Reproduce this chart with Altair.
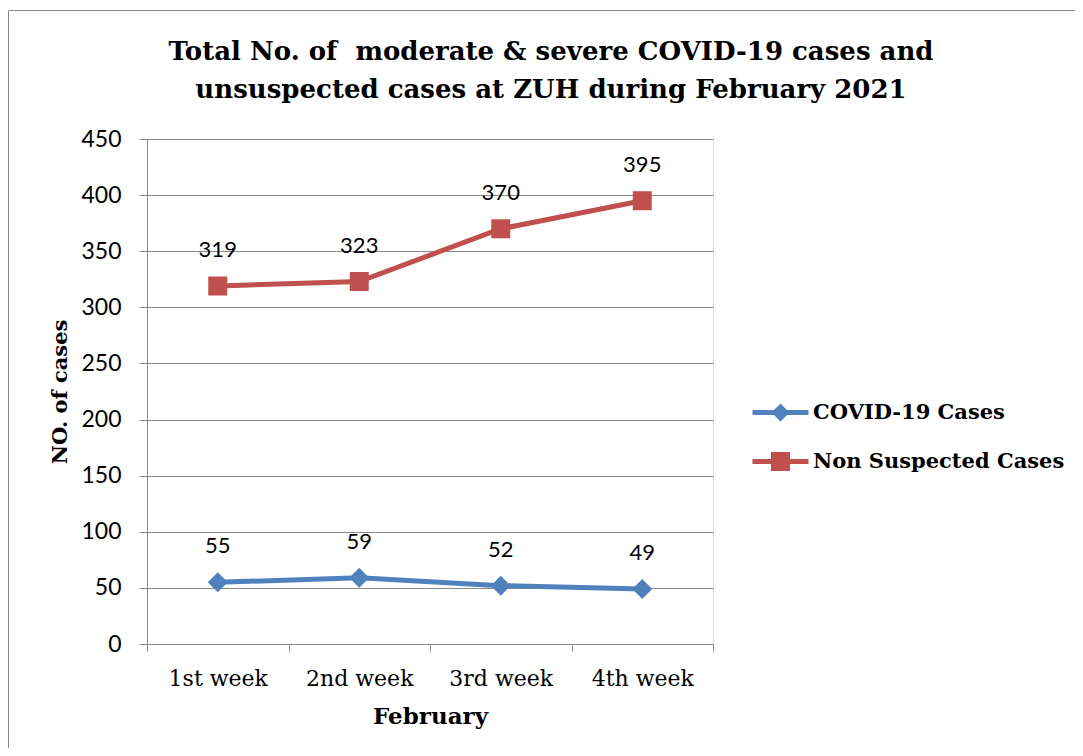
import altair as alt
import pandas as pd

weeks = ["1st week", "2nd week", "3rd week", "4th week"]
covid_cases = [55, 59, 52, 49]
non_suspected = [319, 323, 370, 395]
series_names = ["COVID-19 Cases", "Non Suspected Cases"]
series_colors = ["#4F81BD", "#C0504D"]
series_shapes = ["diamond", "square"]
series_sizes = [400, 361]
y_ticks = [0, 50, 100, 150, 200, 250, 300, 350, 400, 450]
title_lines = ["Total No. of \u00a0moderate & severe COVID-19 cases and",
               "unsuspected cases at ZUH during February 2021"]

rows = []
for name, vals in zip(series_names, [covid_cases, non_suspected]):
    for w, v in zip(weeks, vals):
        rows.append({"week": w, "cases": v, "series": name})
df = pd.DataFrame(rows)

W, H = 566, 505
GRAY = "#898989"
SERIF = "DejaVu Serif"
SANS = "Lato"

# legend symbols: line with marker (unit = sqrt(size)/2 px)
legend_paths = [
    "M-2.8,-0.25H2.8V0.25H-2.8Z M-0.9,0L0,-0.9L0.9,0L0,0.9Z",
    "M-2.8,-0.25H2.8V0.25H-2.8Z M-0.95,-0.95H0.95V0.95H-0.95Z",
]

x_enc = alt.X(
    "week:N", sort=weeks,
    scale=alt.Scale(type="band", paddingInner=0, paddingOuter=0),
    axis=alt.Axis(
        title="February", titleFont=SERIF, titleFontWeight="bold", titleFontSize=23,
        titleColor="black", titleY=72, titleBaseline="middle",
        labelFont=SERIF, labelFontSize=22, labelColor="black", labelAngle=0,
        labelPadding=17, tickBand="extent", tickSize=7, tickColor=GRAY,
        domainColor=GRAY, grid=False,
    ),
)
y_enc = alt.Y(
    "cases:Q",
    scale=alt.Scale(domain=[0, 450], nice=False),
    axis=alt.Axis(
        values=y_ticks, title="NO. of cases", titleFont=SERIF, titleFontWeight="bold",
        titleFontSize=21, titleColor="black", titleX=-87, titleY=H / 2,
        titleBaseline="middle", titleAlign="center",
        labelFont=SANS, labelFontSize=23, labelColor="black", labelPadding=18,
        tickSize=8, tickColor=GRAY, domainColor=GRAY, grid=True, gridColor=GRAY,
        gridOpacity=1,
    ),
)

frame = alt.Chart(pd.DataFrame({"f": [0]})).mark_rect(
    filled=False, stroke=GRAY, strokeWidth=1
).encode(
    x=alt.value(-138.5), y=alt.value(-128.5), x2=alt.value(2000), y2=alt.value(2000)
)

series_layers = []
for name, col, shp, sz in zip(series_names, series_colors, series_shapes, series_sizes):
    base = alt.Chart(df).transform_filter(alt.datum.series == name).encode(x=x_enc, y=y_enc)
    series_layers.append(base.mark_line(strokeWidth=5, color=col))
    series_layers.append(base.mark_point(filled=True, opacity=1, shape=shp, size=sz, color=col))

labels = alt.Chart(df).mark_text(
    dy=-36, font=SANS, fontSize=22, baseline="middle", align="center", color="black"
).encode(x=x_enc, y=y_enc, text="cases:Q")

leg = alt.Legend(
    title=None, orient="none", legendX=623, legendY=263, padding=0,
    labelFont=SERIF, labelFontWeight="bold", labelFontSize=21, labelColor="black",
    symbolSize=400, labelOffset=22, rowPadding=27, symbolOpacity=1,
    symbolStrokeWidth=0, labelLimit=400,
)
legend_layer = alt.Chart(df).mark_point(filled=True, opacity=0).encode(
    x=x_enc, y=y_enc,
    color=alt.Color("series:N", scale=alt.Scale(domain=series_names, range=series_colors), legend=leg),
    shape=alt.Shape("series:N", scale=alt.Scale(domain=series_names, range=legend_paths), legend=leg),
)

chart = alt.layer(frame, *series_layers, labels, legend_layer).properties(
    width=W, height=H,
    title=alt.TitleParams(
        text=title_lines, font=SERIF, fontSize=26, fontWeight="bold", color="black",
        anchor="middle", frame="group", dx=121, offset=-93, lineHeight=38,
    ),
    autosize=alt.AutoSizeParams(type="none"),
    padding={"left": 139, "top": 131, "right": 362, "bottom": 104},
).configure_view(stroke=None).configure(background="white")

chart.save("out.html", embed_options={"renderer": "svg", "actions": False})
